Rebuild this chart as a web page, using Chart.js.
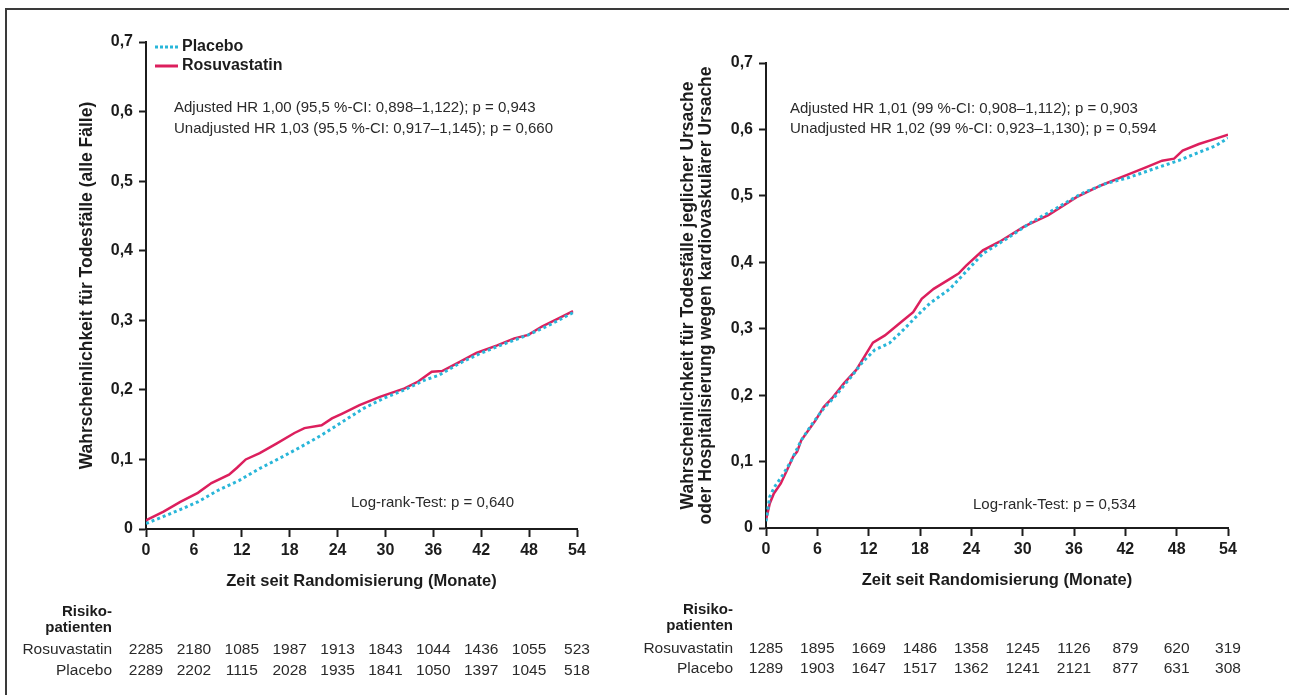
<!DOCTYPE html>
<html lang="de">
<head>
<meta charset="utf-8">
<title>Rosuvastatin vs. Placebo – Kaplan-Meier</title>
<script src="https://cdn.jsdelivr.net/npm/chart.js@4.4.1/dist/chart.umd.min.js"></script>
<style>
  html, body { margin: 0; padding: 0; background: #fff; }
  body { width: 1289px; height: 695px; position: relative; overflow: hidden; }
  .frame {
    position: absolute; left: 5px; top: 8px; width: 1300px; height: 700px;
    border-top: 2px solid #3a3a3a; border-left: 2px solid #3a3a3a;
  }
  canvas { position: absolute; top: 0; }
  #left { left: 0; }
  #right { left: 640px; }
</style>
</head>
<body>
<div class="frame"></div>
<canvas id="left" width="640" height="695"></canvas>
<canvas id="right" width="649" height="695"></canvas>

<script>
// ---- data ----
const riskMonths = [0, 6, 12, 18, 24, 30, 36, 42, 48, 54];

// left panel: deaths (all cases)
const leftRosuMonths = [0, 0.24, 2.2, 4.3, 6.5, 8.2, 10.4, 11.4, 12.5, 14.25, 16.4, 18.6, 19.85, 22, 23.3, 24.6, 26.75, 29.3, 32.4, 34.1, 35.8, 37.1, 39.25, 41.4, 44, 46.15, 47.9, 49.6, 51.75, 53.5];
const leftRosuValues = [0.012, 0.014, 0.025, 0.039, 0.052, 0.066, 0.078, 0.088, 0.1, 0.109, 0.123, 0.138, 0.145, 0.149, 0.159, 0.166, 0.178, 0.19, 0.202, 0.212, 0.226, 0.227, 0.24, 0.253, 0.264, 0.274, 0.279, 0.291, 0.303, 0.313];
const leftPlacMonths = [0, 0.24, 2.2, 4.3, 6.5, 9.1, 11.7, 14.25, 16.8, 19.4, 22, 24.6, 27.2, 29.8, 32.4, 34.9, 36.7, 39.25, 41.8, 44.4, 47.9, 50.5, 53.5];
const leftPlacValues = [0.008, 0.009, 0.018, 0.028, 0.039, 0.056, 0.07, 0.087, 0.102, 0.118, 0.135, 0.154, 0.173, 0.188, 0.2, 0.214, 0.221, 0.238, 0.252, 0.264, 0.279, 0.293, 0.311];
const leftRiskRosu = [2285, 2180, 1085, 1987, 1913, 1843, 1044, 1436, 1055, 523];
const leftRiskPlac = [2289, 2202, 1115, 2028, 1935, 1841, 1050, 1397, 1045, 518];

// right panel: death or cardiovascular hospitalisation
const rightRosuMonths = [0, 0.44, 0.92, 1.73, 2.45, 3.16, 3.64, 4.12, 4.83, 5.79, 6.74, 7.7, 9.13, 10.55, 11.5, 12.5, 13.9, 15.8, 17.2, 18.2, 19.6, 21.5, 22.5, 23.4, 25.35, 27.3, 30.2, 33, 36.3, 39.2, 42.5, 44.4, 46.3, 47.7, 48.7, 50.6, 52.3, 54];
const rightRosuValues = [0.012, 0.037, 0.052, 0.067, 0.087, 0.107, 0.115, 0.132, 0.145, 0.162, 0.182, 0.195, 0.218, 0.238, 0.258, 0.279, 0.29, 0.31, 0.325, 0.345, 0.36, 0.375, 0.383, 0.395, 0.418, 0.431, 0.454, 0.471, 0.498, 0.516, 0.533, 0.543, 0.553, 0.556, 0.568, 0.578, 0.585, 0.592];
const rightPlacMonths = [0, 0.44, 1.0, 1.97, 2.9, 4.12, 5.3, 6.74, 8.2, 10.1, 11.3, 12.7, 14.4, 15.8, 17.7, 19.14, 21.5, 22.95, 25.35, 28.2, 31.1, 33.9, 36.8, 39.6, 42.5, 45.4, 48.2, 50.5, 52.5, 54];
const rightPlacValues = [0.01, 0.047, 0.062, 0.08, 0.1, 0.132, 0.155, 0.18, 0.2, 0.23, 0.25, 0.268, 0.278, 0.295, 0.32, 0.338, 0.36, 0.38, 0.413, 0.436, 0.461, 0.481, 0.503, 0.518, 0.528, 0.541, 0.553, 0.565, 0.575, 0.587];
const rightRiskRosu = [1285, 1895, 1669, 1486, 1358, 1245, 1126, 879, 620, 319];
const rightRiskPlac = [1289, 1903, 1647, 1517, 1362, 1241, 2121, 877, 631, 308];

const RED = "#dc1f5d";
const CYAN = "#29b6d9";
const INK = "#1c1c1c";
const FONT = "'Liberation Sans', Arial, Helvetica, sans-serif";

Chart.defaults.font.family = FONT;
Chart.defaults.color = INK;

const toPoints = (xs, ys) => xs.map((x, i) => ({ x, y: ys[i] }));
const comma = (v) => (v === 0 ? "0" : v.toFixed(1).replace(".", ","));

// texts, legend and the patients-at-risk table
const kmText = {
  id: "kmText",
  afterDraw(chart, args, o) {
    const ctx = chart.ctx;
    const xs = chart.scales.x;
    ctx.save();
    ctx.textBaseline = "middle";

    ctx.fillStyle = "#2a2a2a";
    ctx.textAlign = "left";
    ctx.font = `15px ${FONT}`;
    o.notes.forEach((n) => ctx.fillText(n.text, n.x, n.y));

    if (o.legend) {
      ctx.lineWidth = 3;
      ctx.strokeStyle = CYAN;
      ctx.setLineDash([3, 2]);
      ctx.beginPath(); ctx.moveTo(155, 47); ctx.lineTo(178, 47); ctx.stroke();
      ctx.setLineDash([]);
      ctx.strokeStyle = RED;
      ctx.beginPath(); ctx.moveTo(155, 66); ctx.lineTo(178, 66); ctx.stroke();
      ctx.fillStyle = INK;
      ctx.font = `bold 16px ${FONT}`;
      ctx.fillText("Placebo", 182, 47);
      ctx.fillText("Rosuvastatin", 182, 66);
    }

    // risk table
    const t = o.table;
    ctx.fillStyle = INK;
    ctx.textAlign = "right";
    ctx.font = `bold 15px ${FONT}`;
    ctx.fillText("Risiko-", t.labelX, t.y[0]);
    ctx.fillText("patienten", t.labelX, t.y[1]);
    ctx.fillStyle = "#2a2a2a";
    ctx.font = `15.5px ${FONT}`;
    ctx.fillText("Rosuvastatin", t.labelX, t.y[2]);
    ctx.fillText("Placebo", t.labelX, t.y[3]);
    ctx.textAlign = "center";
    riskMonths.forEach((m, i) => {
      const px = xs.getPixelForValue(m);
      ctx.fillText(String(t.rosu[i]), px, t.y[2]);
      ctx.fillText(String(t.plac[i]), px, t.y[3]);
    });
    ctx.restore();
  },
};

function makeChart(id, p) {
  return new Chart(document.getElementById(id), {
    type: "line",
    data: {
      datasets: [
        {
          label: "Placebo",
          data: toPoints(p.placMonths, p.placValues),
          borderColor: CYAN,
          borderWidth: 3,
          borderDash: [3, 3],
          pointRadius: 0,
          tension: 0,
        },
        {
          label: "Rosuvastatin",
          data: toPoints(p.rosuMonths, p.rosuValues),
          borderColor: RED,
          borderWidth: 2.5,
          pointRadius: 0,
          tension: 0,
        },
      ],
    },
    options: {
      responsive: false,
      animation: false,
      events: [],
      layout: { padding: p.padding },
      plugins: {
        legend: { display: false },
        tooltip: { enabled: false },
        kmText: { notes: p.notes, legend: p.legend, table: p.table },
      },
      scales: {
        x: {
          type: "linear",
          min: 0,
          max: 54,
          afterFit: (s) => { s.height = p.xHeight; },
          ticks: { stepSize: 6, padding: 4, font: { size: 16, weight: "bold" }, color: INK },
          grid: { drawOnChartArea: false, tickLength: 8, tickWidth: 2, tickColor: INK },
          border: { display: true, width: 2, color: INK },
          title: {
            display: true,
            text: "Zeit seit Randomisierung (Monate)",
            font: { size: 16.5, weight: "bold", lineHeight: 1.15 },
            padding: { top: 0, bottom: 0 },
            color: INK,
          },
        },
        y: {
          min: 0,
          max: 0.7,
          afterFit: (s) => { s.width = p.yWidth; },
          ticks: { stepSize: 0.1, padding: 6, callback: comma, font: { size: 16, weight: "bold" }, color: INK },
          grid: { drawOnChartArea: false, tickLength: 7, tickWidth: 2, tickColor: INK },
          border: { display: true, width: 2, color: INK },
          title: {
            display: true,
            text: p.yTitle,
            font: { size: 17.5, weight: "bold", lineHeight: p.yLineHeight },
            padding: { top: p.yTitlePad, bottom: 0 },
            color: INK,
          },
        },
      },
    },
    plugins: [kmText],
  });
}

makeChart("left", {
  rosuMonths: leftRosuMonths, rosuValues: leftRosuValues,
  placMonths: leftPlacMonths, placValues: leftPlacValues,
  padding: { left: 0, top: 42, right: 63, bottom: 104 },
  xHeight: 62,
  yWidth: 146,
  yTitle: "Wahrscheinlichkeit für Todesfälle (alle Fälle)",
  yTitlePad: 77,
  yLineHeight: 1.15,
  legend: true,
  notes: [
    { text: "Adjusted HR 1,00 (95,5 %-CI: 0,898–1,122); p = 0,943", x: 174, y: 108 },
    { text: "Unadjusted HR 1,03 (95,5 %-CI: 0,917–1,145); p = 0,660", x: 174, y: 129 },
    { text: "Log-rank-Test: p = 0,640", x: 351, y: 503 },
  ],
  table: { labelX: 112, y: [612, 628, 650, 671], rosu: leftRiskRosu, plac: leftRiskPlac },
});

makeChart("right", {
  rosuMonths: rightRosuMonths, rosuValues: rightRosuValues,
  placMonths: rightPlacMonths, placValues: rightPlacValues,
  padding: { left: 0, top: 63, right: 61, bottom: 105 },
  xHeight: 62,
  yWidth: 126,
  yTitle: [
    "Wahrscheinlichkeit für Todesfälle jeglicher Ursache",
    "oder Hospitalisierung wegen kardiovaskulärer Ursache",
  ],
  yTitlePad: 39,
  yLineHeight: 1.03,
  legend: false,
  notes: [
    { text: "Adjusted HR 1,01 (99 %-CI: 0,908–1,112); p = 0,903", x: 150, y: 109 },
    { text: "Unadjusted HR 1,02 (99 %-CI: 0,923–1,130); p = 0,594", x: 150, y: 129 },
    { text: "Log-rank-Test: p = 0,534", x: 333, y: 505 },
  ],
  table: { labelX: 93, y: [610, 626, 649, 669], rosu: rightRiskRosu, plac: rightRiskPlac },
});
</script>
</body>
</html>
